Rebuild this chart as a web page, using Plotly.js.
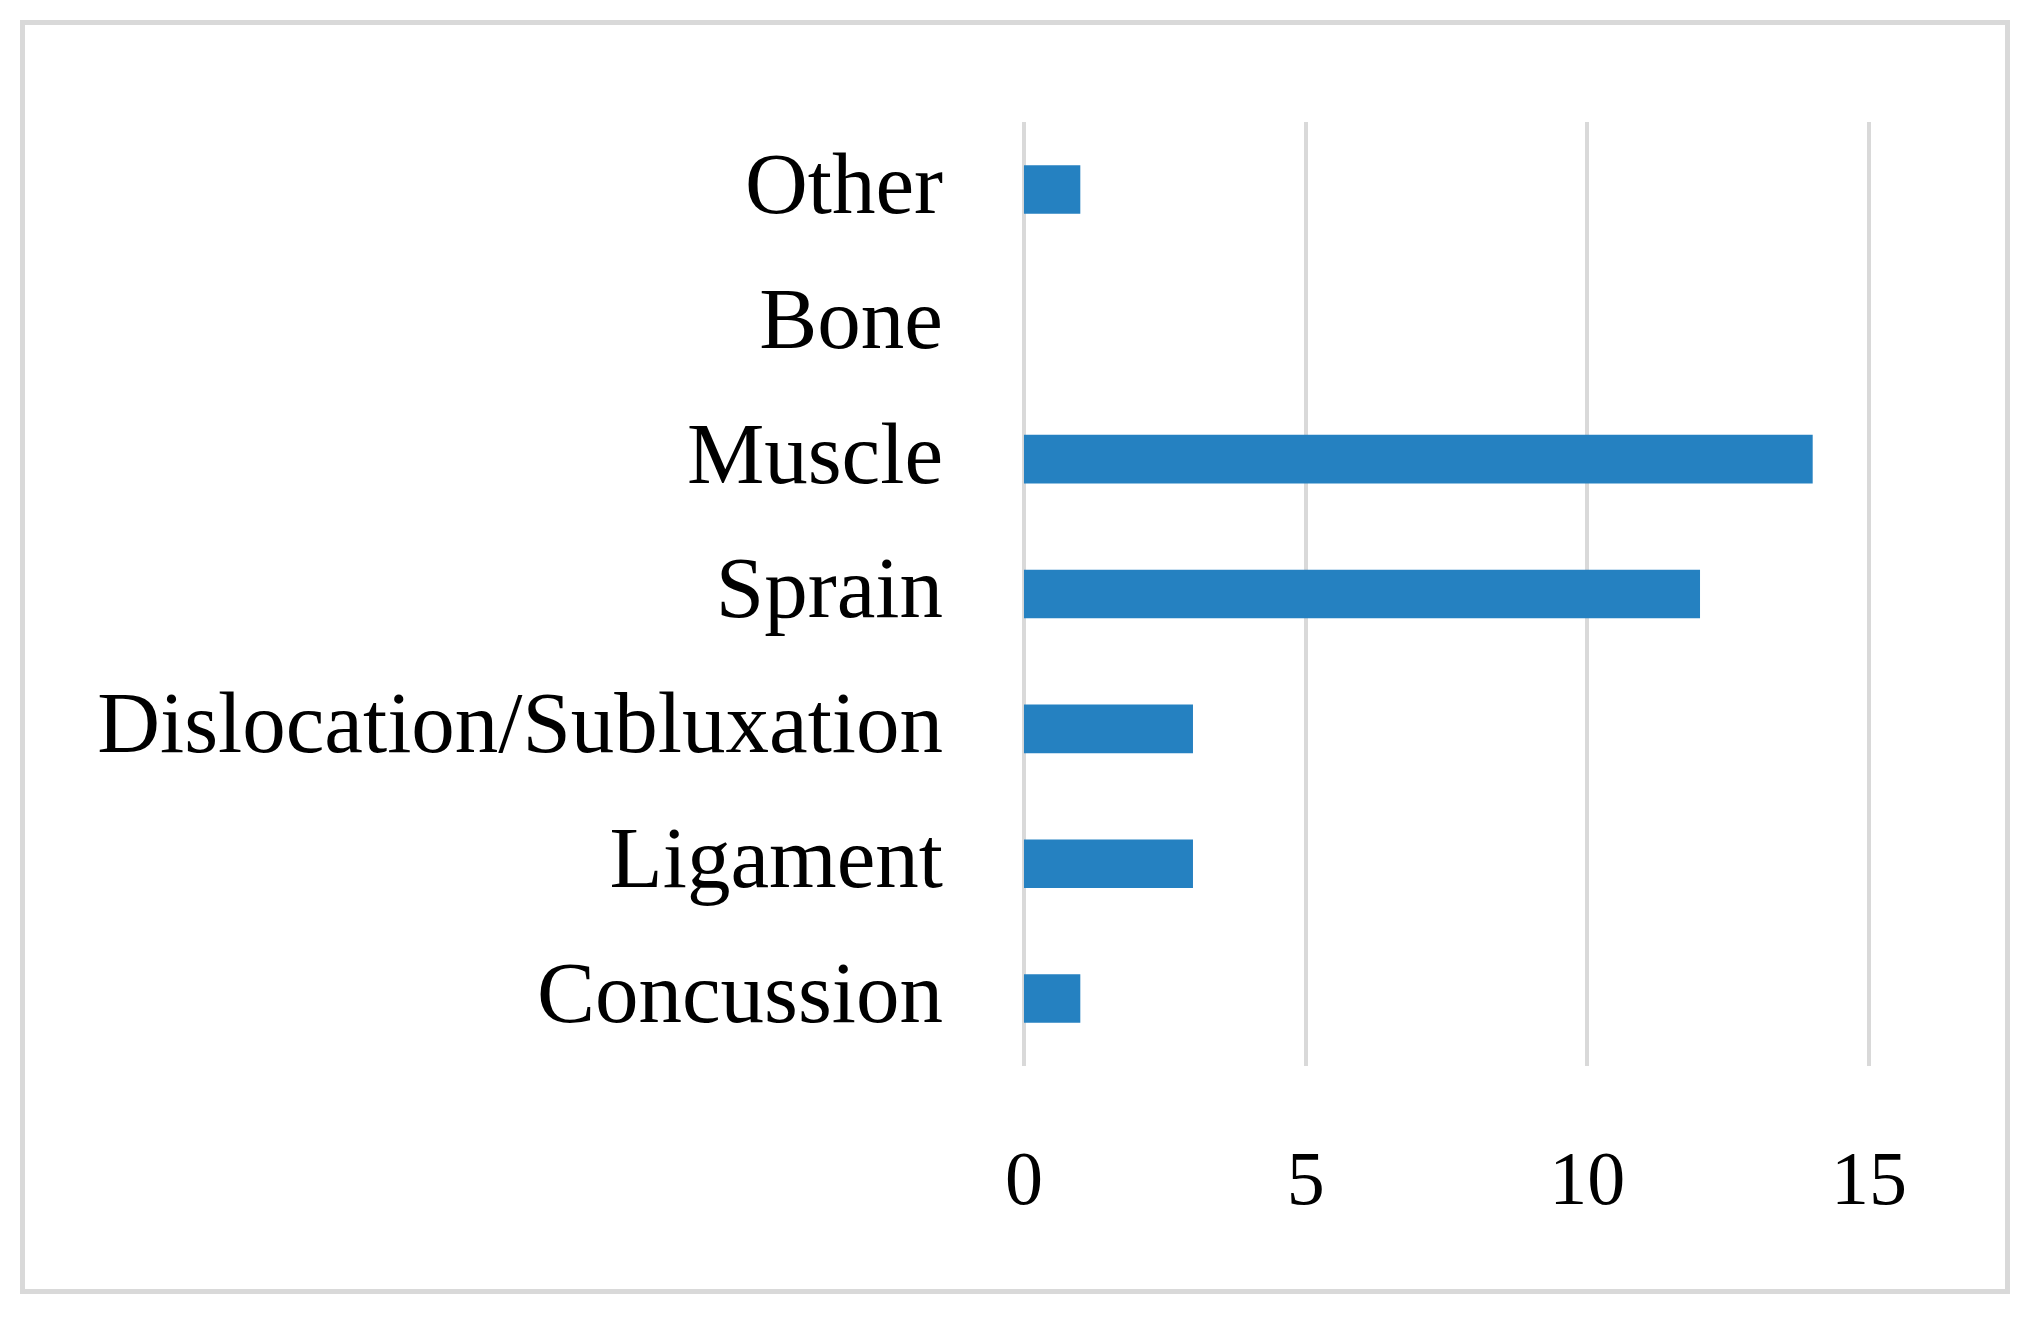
<!DOCTYPE html>
<html>
<head>
<meta charset="utf-8">
<script src="https://cdn.plot.ly/plotly-3.0.1.min.js"></script>
<style>
  html, body { margin: 0; padding: 0; background: #ffffff; }
  #chart { width: 2030px; height: 1320px; }
</style>
</head>
<body>
<div id="chart"></div>
<script>
// Data
const categories = ["Concussion", "Ligament", "Dislocation/Subluxation", "Sprain", "Muscle", "Bone", "Other"];
const counts = [1, 3, 3, 12, 14, 0, 1];
const xTickValues = [0, 5, 10, 15];
const xTickLabels = ["0", "5", "10", "15"];

// Layout geometry (pixels)
const W = 2030, H = 1320;
const plotL = 1022, plotR = 1871, plotT = 122, plotB = 1066;
const pw = plotR - plotL, ph = plotB - plotT;
function px2x(p) { return (p - plotL) / pw; }
function px2y(p) { return (plotB - p) / ph; }

const fontFamily = "'Liberation Serif', 'DejaVu Serif', serif";

const trace = {
  type: "bar",
  orientation: "h",
  y: categories,
  x: counts,
  marker: { color: "#2581c1" },
  hoverinfo: "x+y"
};

const layout = {
  width: W,
  height: H,
  margin: { l: plotL, r: W - plotR, t: plotT, b: H - plotB, pad: 0 },
  paper_bgcolor: "#ffffff",
  plot_bgcolor: "#ffffff",
  showlegend: false,
  bargap: 0.64,
  font: { family: fontFamily, color: "#000000", size: 80 },
  xaxis: {
    range: [-0.035, 15.035],
    tickmode: "array",
    tickvals: xTickValues,
    ticktext: xTickLabels,
    showgrid: true,
    gridcolor: "#d9d9d9",
    gridwidth: 4,
    zeroline: false,
    showline: false,
    ticks: "",
    ticklabelstandoff: 61,
    tickfont: { family: fontFamily, size: 76, color: "#000000" },
    fixedrange: true
  },
  yaxis: {
    type: "category",
    categoryorder: "array",
    categoryarray: categories,
    showgrid: false,
    zeroline: false,
    showline: false,
    ticks: "",
    ticklabelstandoff: 78,
    ticklabelshift: -7,
    tickfont: { family: fontFamily, size: 87, color: "#000000" },
    fixedrange: true
  },
  shapes: [{
    type: "rect",
    xref: "paper", yref: "paper",
    x0: px2x(22.5), x1: px2x(2007.5),
    y0: px2y(1291.5), y1: px2y(22.5),
    line: { color: "#d9d9d9", width: 5 },
    fillcolor: "rgba(0,0,0,0)",
    layer: "below"
  }]
};

Plotly.newPlot("chart", [trace], layout, { displayModeBar: false, staticPlot: true });
</script>
</body>
</html>
